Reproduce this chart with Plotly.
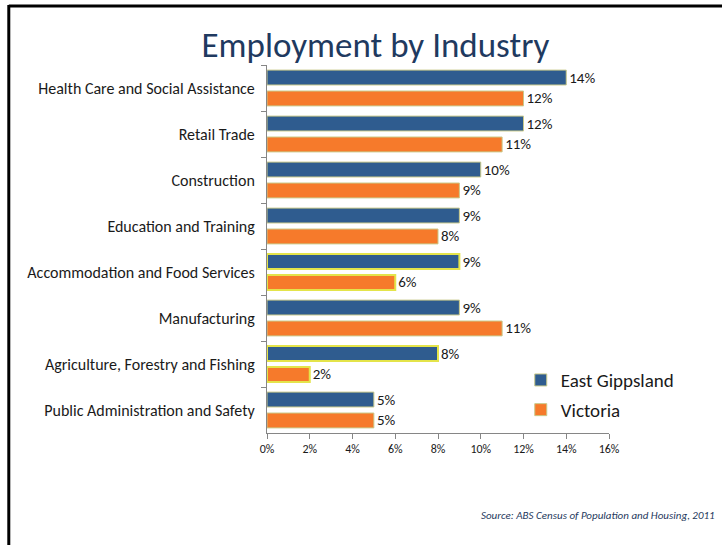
import plotly.graph_objects as go

industries = [
    "Health Care and Social Assistance",
    "Retail Trade",
    "Construction",
    "Education and Training",
    "Accommodation and Food Services",
    "Manufacturing",
    "Agriculture, Forestry and Fishing",
    "Public Administration and Safety",
]
east_gippsland = [14, 12, 10, 9, 9, 9, 8, 5]
victoria = [12, 11, 9, 8, 6, 11, 2, 5]
x_ticks = [0, 2, 4, 6, 8, 10, 12, 14, 16]
x_tick_labels = ["0%", "2%", "4%", "6%", "8%", "10%", "12%", "14%", "16%"]

BLUE = "#2f5c8f"
ORANGE = "#f67a2b"
FONT = "Carlito, Lato, sans-serif"

highlight = {"Accommodation and Food Services", "Agriculture, Forestry and Fishing"}
line_cols = ["#e4e44a" if c in highlight else "#c9c98a" for c in industries]
line_w = [2 if c in highlight else 1 for c in industries]

fig = go.Figure()
fig.add_trace(go.Bar(
    y=industries, x=east_gippsland, orientation="h", name="East Gippsland",
    marker=dict(color=BLUE, line=dict(color=line_cols, width=line_w)),
    texttemplate="%{x:.0f}%", textposition="outside", constraintext="none",
    textfont=dict(size=15, color="#1a1a1a", family=FONT),
    cliponaxis=False, legendgroup="a",
))
fig.add_trace(go.Bar(
    y=industries, x=victoria, orientation="h", name="Victoria",
    marker=dict(color=ORANGE, line=dict(color=line_cols, width=line_w)),
    texttemplate="%{x:.0f}%", textposition="outside", constraintext="none",
    textfont=dict(size=15, color="#1a1a1a", family=FONT),
    cliponaxis=False, legendgroup="b",
))

fig.update_layout(
    width=722, height=545,
    margin=dict(l=267, r=113, t=65, b=112),
    paper_bgcolor="white", plot_bgcolor="white",
    font=dict(family=FONT, color="#1a1a1a"),
    barmode="group", bargap=0.09, bargroupgap=0.29,
    title=dict(text="Employment by Industry", x=0.52, xanchor="center",
               y=0.917, yanchor="middle",
               font=dict(size=35, color="#1f3a60", family=FONT)),
    legend=dict(x=0.742, y=0.103, xanchor="left", yanchor="middle",
                font=dict(size=19, color="#1a1a1a", family=FONT),
                tracegroupgap=2, traceorder="grouped",
                bgcolor="rgba(0,0,0,0)", itemwidth=30),
    xaxis=dict(range=[0, 16], tickvals=x_ticks, ticktext=x_tick_labels,
               showgrid=False, zeroline=False, showline=True,
               linecolor="#868686", linewidth=1, ticks="outside",
               ticklen=5, tickcolor="#868686",
               tickfont=dict(size=12, color="#1a1a1a", family=FONT)),
    yaxis=dict(autorange="reversed", showgrid=False, showline=True,
               linecolor="#868686", linewidth=1, ticks="outside",
               ticklen=5, tickcolor="#868686", tickson="boundaries",
               ticklabelstandoff=8,
               tickfont=dict(size=16, color="#1a1a1a", family=FONT)),
    showlegend=True,
)

fig.add_annotation(text="<i>Source: ABS Census of Population and Housing, 2011</i>",
                   xref="paper", yref="paper", x=1.315, y=-0.225,
                   xanchor="right", yanchor="middle", showarrow=False,
                   font=dict(size=11, color="#1f3a60", family=FONT))

# border lines (left and top) of the slide frame
fig.add_shape(type="line", xref="paper", yref="paper",
              x0=-0.755, x1=-0.755, y0=1.163, y1=-0.35,
              line=dict(color="black", width=3))
fig.add_shape(type="line", xref="paper", yref="paper",
              x0=-0.755, x1=1.35, y0=1.16, y1=1.16,
              line=dict(color="black", width=3))

fig.write_html("out.html", config={"displayModeBar": False},
               post_script="document.body.style.margin='0';")
